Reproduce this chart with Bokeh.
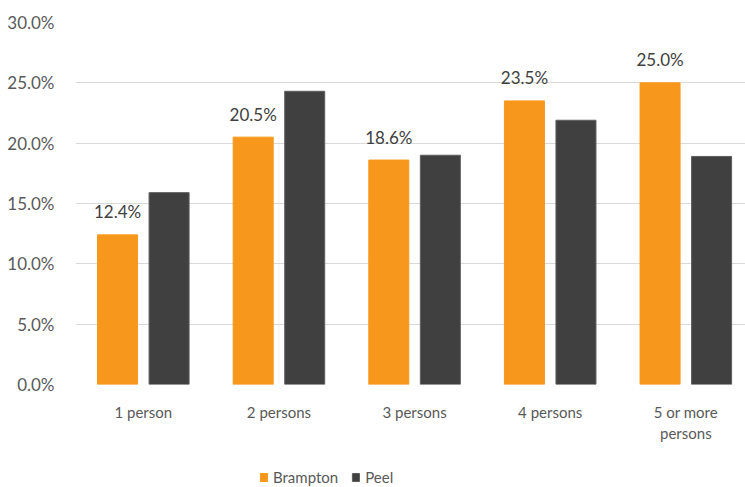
import numpy as np
from bokeh.plotting import figure
from bokeh.layouts import column
from bokeh.models import (ColumnDataSource, Range1d, FixedTicker, Legend, LegendItem,
                          LabelSet, NumeralTickFormatter)
from bokeh.embed import file_html
from bokeh.resources import INLINE
from bokeh.core.properties import value

categories = ["1 person", "2 persons", "3 persons", "4 persons", "5 or more\npersons"]
series_names = ["Brampton", "Peel"]
brampton = [12.4, 20.5, 18.6, 23.5, 25.0]
peel = [15.9, 24.3, 19.0, 21.9, 18.9]
y_ticks = [0, 5, 10, 15, 20, 25, 30]

FONT = "Lato"
ORANGE = "#F7981D"
DARK = "#404040"

idx = np.arange(len(categories)) + 0.5
off = 0.19
w = 0.295

src = ColumnDataSource(dict(
    xb=idx - off, xp=idx + off,
    b=[v / 100 for v in brampton], p=[v / 100 for v in peel],
    blab=[f"{v:.1f}%" for v in brampton],
))

p = figure(width=745, height=465, output_backend="svg", toolbar_location=None,
           x_range=Range1d(0, 4.94), y_range=Range1d(0, 0.30),
           min_border_left=75, min_border_right=0, min_border_top=22,
           min_border_bottom=81)
p.outline_line_color = None
p.background_fill_color = "white"

rb = p.vbar(x="xb", top="b", width=w, source=src, fill_color=ORANGE, line_color=ORANGE)
rp = p.vbar(x="xp", top="p", width=w, source=src, fill_color=DARK, line_color="#5e5e5e")

labels = LabelSet(x="xb", y="b", text="blab", source=src, text_align="center",
                  text_baseline="middle", y_offset=23, text_font=value(FONT),
                  text_font_size="17px", text_color="#404040")
p.add_layout(labels)

p.xaxis.ticker = FixedTicker(ticks=list(idx))
p.xaxis.major_label_overrides = {float(x): c for x, c in zip(idx, categories)}
p.yaxis.ticker = FixedTicker(ticks=[t / 100 for t in y_ticks])
p.yaxis.formatter = NumeralTickFormatter(format="0.0%")

for ax in (p.xaxis, p.yaxis):
    ax.axis_line_color = None
    ax.major_tick_line_color = None
    ax.minor_tick_line_color = None
    ax.major_label_text_font = FONT
    ax.major_label_text_color = "#595959"
p.yaxis.major_label_text_font_size = "17px"
p.xaxis.major_label_text_font_size = "15px"
p.yaxis.major_label_standoff = 15
p.xaxis.major_label_standoff = 12

p.xgrid.grid_line_color = None
p.ygrid.grid_line_color = "#d9d9d9"
p.ygrid.grid_line_width = 1

# legend strip
lg = figure(width=745, height=22, output_backend="svg", toolbar_location=None,
            x_axis_type=None, y_axis_type=None, x_range=Range1d(0, 1), y_range=Range1d(0, 1),
            min_border=0)
lg.outline_line_color = None
lg.grid.grid_line_color = None
dummy = ColumnDataSource(dict(x=[-10], top=[-10]))
lb = lg.vbar(x="x", top="top", width=0.1, source=dummy, fill_color=ORANGE, line_color=ORANGE)
lp = lg.vbar(x="x", top="top", width=0.1, source=dummy, fill_color=DARK, line_color="#5e5e5e")
legend = Legend(items=[LegendItem(label=series_names[0], renderers=[lb]),
                       LegendItem(label=series_names[1], renderers=[lp])],
                orientation="horizontal", location=(184, 1),
                label_text_font=FONT, label_text_font_size="15px",
                label_text_color="#595959", glyph_width=9, glyph_height=10,
                spacing=13, label_standoff=5, border_line_color=None,
                background_fill_alpha=0, margin=0, padding=0)
lg.add_layout(legend)

open("out.html", "w").write(file_html(column(p, lg, spacing=0), INLINE))
